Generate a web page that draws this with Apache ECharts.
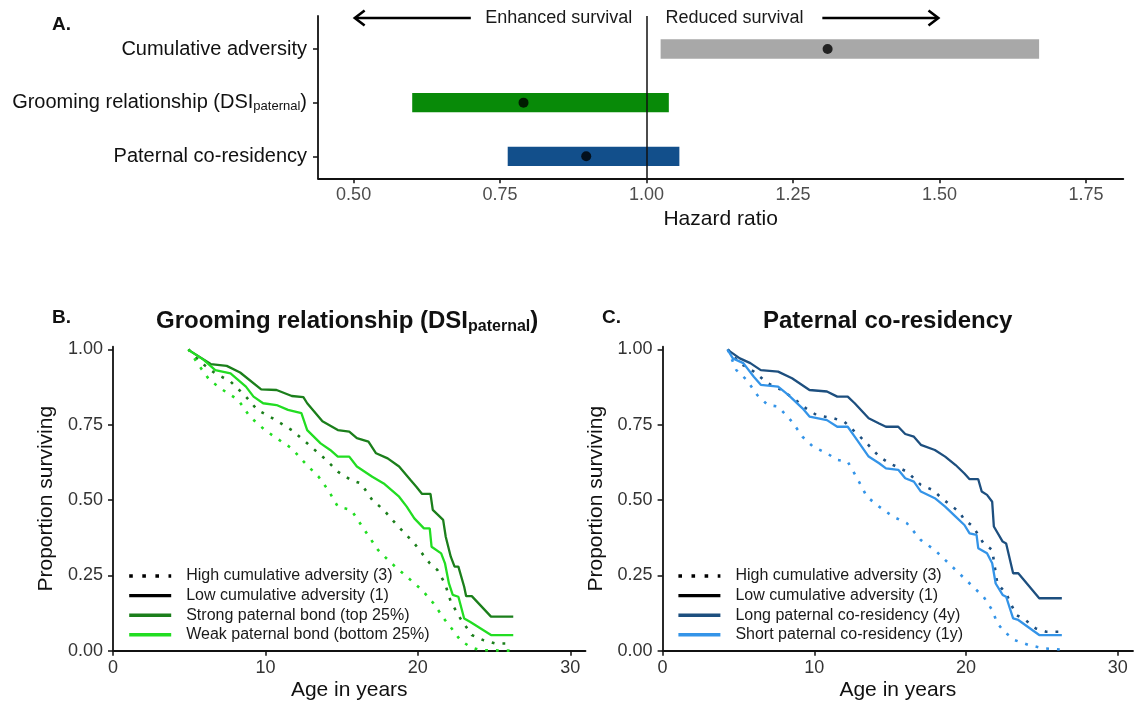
<!DOCTYPE html>
<html>
<head>
<meta charset="utf-8">
<title>Hazard ratios and survival curves</title>
<script src="https://cdn.jsdelivr.net/npm/echarts@6.0.0/dist/echarts.min.js"></script>
<style>
  html, body { margin: 0; padding: 0; background: #fff; }
  #chart { width: 1135px; height: 707px; }
</style>
</head>
<body>
<div id="chart"></div>
<script>
// ---- panel A: hazard ratios (top to bottom) ----
const hrTerms = ['Cumulative adversity', 'Grooming relationship (DSI{sub|paternal})', 'Paternal co-residency'];
const hrLow = [1.024, 0.600, 0.763];
const hrHigh = [1.670, 1.038, 1.056];
const hrEst = [1.309, 0.790, 0.897];
const hrTicks = [0.5, 0.75, 1.0, 1.25, 1.5, 1.75];

// arrows above the forest plot
const arrowFrom = [0.70, 1.30];
const arrowTo = [0.50, 1.50];
const noteX = [0.85, 1.15];
const noteText = ['Enhanced survival', 'Reduced survival'];

// ---- panels B and C: predicted survival, [age, proportion] ----
const ageTicks = [0, 10, 20, 30];
const survTicks = [0, 0.25, 0.5, 0.75, 1];

// B: grooming relationship
const strongLowAdv = [[4.95,0.998],[6.41,0.951],[7.46,0.945],[8.34,0.923],[9.72,0.867],[10.73,0.865],[11.73,0.845],[12.49,0.841],[12.74,0.821],[13.74,0.761],[14.75,0.732],[15.5,0.727],[16.0,0.705],[16.76,0.694],[17.26,0.655],[18.02,0.638],[18.77,0.611],[19.52,0.566],[19.9,0.544],[20.28,0.52],[20.83,0.52],[20.98,0.467],[21.66,0.434],[21.83,0.378],[22.16,0.312],[22.41,0.279],[22.66,0.279],[23.04,0.212],[23.17,0.181],[23.54,0.181],[24.8,0.113],[26.26,0.113]];
const weakLowAdv = [[4.95,0.998],[5.95,0.965],[6.71,0.931],[7.71,0.92],[8.72,0.876],[9.22,0.843],[9.85,0.821],[10.73,0.815],[11.48,0.799],[12.36,0.788],[12.74,0.732],[13.62,0.688],[14.25,0.666],[14.75,0.644],[15.5,0.644],[16.0,0.611],[17.01,0.577],[17.76,0.555],[18.77,0.511],[19.27,0.478],[19.77,0.439],[20.4,0.406],[20.78,0.406],[20.9,0.345],[21.53,0.323],[21.78,0.29],[22.04,0.223],[22.29,0.185],[22.66,0.179],[23.04,0.107],[23.42,0.096],[24.8,0.052],[26.26,0.052]];
const strongHighAdv = [[4.95,1.0],[5.7,0.959],[6.71,0.92],[7.71,0.893],[8.72,0.843],[9.47,0.799],[10.48,0.771],[11.73,0.732],[12.74,0.688],[13.99,0.633],[14.75,0.594],[15.63,0.566],[16.26,0.555],[17.01,0.5],[17.76,0.467],[18.52,0.423],[19.15,0.389],[19.77,0.356],[20.78,0.29],[21.28,0.268],[21.78,0.223],[22.16,0.163],[22.79,0.107],[23.54,0.052],[24.3,0.035],[25.05,0.024],[26.26,0.024]];
const weakHighAdv = [[4.95,1.0],[5.7,0.942],[6.33,0.898],[7.21,0.865],[8.22,0.832],[8.97,0.777],[9.97,0.732],[10.73,0.705],[11.73,0.671],[12.61,0.622],[13.49,0.577],[14.12,0.533],[14.75,0.478],[15.63,0.467],[16.51,0.4],[17.39,0.334],[18.27,0.29],[19.27,0.246],[20.28,0.201],[21.03,0.157],[21.78,0.102],[22.29,0.069],[22.79,0.035],[23.42,0.013],[24.05,0.002],[26.26,0.0]];

// C: paternal co-residency
const longLowAdv = [[4.29,0.998],[5.09,0.97],[5.78,0.954],[6.47,0.931],[7.61,0.926],[8.53,0.904],[9.68,0.865],[10.83,0.86],[11.51,0.843],[12.2,0.843],[12.66,0.821],[13.58,0.771],[14.27,0.754],[14.72,0.743],[15.53,0.743],[15.99,0.719],[16.56,0.71],[17.02,0.683],[17.94,0.666],[18.62,0.644],[19.31,0.616],[19.89,0.588],[20.23,0.569],[20.8,0.569],[21.03,0.528],[21.38,0.517],[21.72,0.494],[21.83,0.412],[22.41,0.362],[22.64,0.356],[23.1,0.257],[23.44,0.257],[24.82,0.174],[26.31,0.174]];
const shortLowAdv = [[4.29,0.998],[4.63,0.97],[5.32,0.954],[6.01,0.909],[6.47,0.882],[7.61,0.876],[8.3,0.848],[9.22,0.804],[9.68,0.777],[10.83,0.765],[11.51,0.743],[12.2,0.743],[12.66,0.71],[13.58,0.644],[14.27,0.622],[14.72,0.605],[15.53,0.6],[15.99,0.572],[16.56,0.561],[17.02,0.528],[17.94,0.506],[18.62,0.478],[19.31,0.445],[19.89,0.417],[20.23,0.389],[20.69,0.384],[20.8,0.34],[21.38,0.323],[21.72,0.29],[21.95,0.223],[22.41,0.185],[22.64,0.179],[23.1,0.107],[23.44,0.102],[24.82,0.052],[26.31,0.052]];
const longHighAdv = [[4.29,1.0],[5.09,0.954],[6.01,0.926],[6.93,0.887],[7.84,0.865],[8.76,0.832],[9.45,0.804],[10.14,0.782],[11.28,0.771],[11.97,0.76],[12.89,0.716],[13.46,0.688],[14.27,0.644],[14.95,0.622],[16.1,0.594],[17.02,0.55],[17.82,0.533],[18.39,0.506],[18.97,0.483],[19.54,0.461],[19.89,0.434],[20.46,0.412],[21.15,0.356],[21.72,0.334],[22.06,0.223],[22.64,0.19],[22.98,0.152],[23.33,0.118],[23.9,0.102],[24.59,0.074],[25.28,0.063],[26.19,0.063]];
const shortHighAdv = [[4.29,1.0],[4.86,0.931],[5.55,0.898],[6.24,0.848],[6.93,0.815],[7.61,0.81],[8.53,0.76],[9.22,0.71],[9.91,0.677],[10.83,0.655],[11.51,0.633],[12.2,0.627],[12.89,0.566],[13.46,0.511],[14.27,0.478],[15.18,0.445],[16.1,0.423],[17.02,0.367],[17.94,0.334],[18.85,0.29],[19.54,0.257],[20.46,0.212],[21.15,0.179],[21.72,0.135],[22.06,0.091],[22.52,0.063],[23.21,0.035],[24.13,0.019],[25.05,0.008],[26.19,0.004]];

const legendB = ['High cumulative adversity (3)', 'Low cumulative adversity (1)', 'Strong paternal bond (top 25%)', 'Weak paternal bond (bottom 25%)'];
const legendC = ['High cumulative adversity (3)', 'Low cumulative adversity (1)', 'Long paternal co-residency (4y)', 'Short paternal co-residency (1y)'];

// ---- styles ----
const FONT = '"Liberation Sans", Arial, Helvetica, sans-serif';
const INK = '#111';
const barColors = ['#a8a8a8', '#088a08', '#124f8b'];
const C_STRONG = '#1b7f1b', C_WEAK = '#22dd22', C_LONG = '#1d4f7f', C_SHORT = '#3494e8';
const DOTS = [2.8, 8];

const nRows = hrTerms.length;
const rowOf = i => nRows - 1 - i;     // top row gets the highest value

function curve(name, data, color, dotted, axis) {
  return {
    type: 'line', name, data, xAxisIndex: axis, yAxisIndex: axis,
    symbol: 'none', silent: true, z: dotted ? 3 : 4,
    lineStyle: { color, width: dotted ? 2.6 : 2.3, type: dotted ? DOTS : 'solid' },
    itemStyle: { color }
  };
}

const axisLine = { show: true, onZero: false, lineStyle: { color: INK, width: 1.8 } };
const axisTick = (vals) => ({ show: true, length: 5, lineStyle: { color: INK, width: 1.5 }, customValues: vals });

function survXAxis(idx) {
  return {
    type: 'value', gridIndex: idx, min: 0, max: 31,
    axisLine, axisTick: axisTick(ageTicks), splitLine: { show: false },
    axisLabel: { customValues: ageTicks, fontSize: 18, color: '#333', fontFamily: FONT, margin: 8 },
    name: 'Age in years', nameLocation: 'middle', nameGap: 29,
    nameTextStyle: { fontSize: 21, color: INK, fontFamily: FONT }
  };
}
function survYAxis(idx) {
  return {
    type: 'value', gridIndex: idx, min: 0, max: 1.0086,
    axisLine, axisTick: axisTick(survTicks), splitLine: { show: false },
    axisLabel: { customValues: survTicks, fontSize: 18, color: '#333', fontFamily: FONT, margin: 10,
      formatter: v => v.toFixed(2) },
    name: 'Proportion surviving', nameLocation: 'middle', nameGap: 56,
    nameTextStyle: { fontSize: 21, color: INK, fontFamily: FONT }
  };
}
function legend(names, left) {
  return {
    data: names, orient: 'vertical', left, top: 563,
    itemWidth: 42, itemHeight: 14, itemGap: 3.6,
    lineStyle: { width: 3.4 },
    itemStyle: { opacity: 0, color: 'transparent', borderWidth: 0 },
    textStyle: { fontSize: 16, color: '#1a1a1a', fontFamily: FONT, lineHeight: 16, padding: [0, 0, 0, 10] },
    selectedMode: false
  };
}

const chart = echarts.init(document.getElementById('chart'), null, { renderer: 'canvas' });

chart.setOption({
  animation: false,
  backgroundColor: '#fff',
  textStyle: { fontFamily: FONT },
  title: [
    { text: 'A.', left: 47, top: 10, textStyle: { fontSize: 19, fontWeight: 'bold', color: INK, fontFamily: FONT } },
    { text: 'B.', left: 47, top: 303, textStyle: { fontSize: 19, fontWeight: 'bold', color: INK, fontFamily: FONT } },
    { text: 'C.', left: 597, top: 303, textStyle: { fontSize: 19, fontWeight: 'bold', color: INK, fontFamily: FONT } },
    { text: 'Grooming relationship (DSI{sub|paternal})', left: 151, top: 302,
      textStyle: { fontSize: 24, fontWeight: 'bold', color: INK, fontFamily: FONT, lineHeight: 28,
        rich: { sub: { fontSize: 16, fontWeight: 'bold', color: INK, fontFamily: FONT, verticalAlign: 'bottom', lineHeight: 22 } } } },
    { text: 'Paternal co-residency', left: 758, top: 302,
      textStyle: { fontSize: 24, fontWeight: 'bold', color: INK, fontFamily: FONT, lineHeight: 28 } }
  ],
  grid: [
    { left: 318, right: 11.7, top: 16, height: 162.3 },
    { left: 113, width: 472.5, top: 346.7, height: 304 },
    { left: 662.6, width: 470.4, top: 346.7, height: 304 }
  ],
  xAxis: [
    {
      type: 'value', gridIndex: 0, min: 0.4392, max: 1.8137,
      axisLine, axisTick: axisTick(hrTicks), splitLine: { show: false },
      axisLabel: { customValues: hrTicks, fontSize: 18, color: '#4d4d4d', fontFamily: FONT, margin: 8,
        formatter: v => v.toFixed(2) },
      name: 'Hazard ratio', nameLocation: 'middle', nameGap: 30,
      nameTextStyle: { fontSize: 21, color: INK, fontFamily: FONT }
    },
    survXAxis(1), survXAxis(2)
  ],
  yAxis: [
    {
      type: 'value', gridIndex: 0, min: -0.41, max: 2.615,
      axisLine, axisTick: axisTick(hrTerms.map((t, i) => rowOf(i))), splitLine: { show: false },
      axisLabel: {
        customValues: hrTerms.map((t, i) => rowOf(i)),
        fontSize: 20, color: INK, fontFamily: FONT, margin: 11,
        formatter: v => hrTerms[rowOf(Math.round(v))],
        rich: { sub: { fontSize: 13, color: INK, fontFamily: FONT, verticalAlign: 'bottom', lineHeight: 20 } }
      }
    },
    survYAxis(1), survYAxis(2)
  ],
  legend: [legend(legendB, 122.5), legend(legendC, 671.7)],
  series: [
    {
      type: 'custom', name: 'CI', xAxisIndex: 0, yAxisIndex: 0, silent: true,
      data: hrTerms.map((t, i) => [hrLow[i], hrHigh[i], rowOf(i), i]),
      encode: { x: [0, 1], y: 2 },
      renderItem: (params, api) => {
        const a = api.coord([api.value(0), api.value(2)]);
        const b = api.coord([api.value(1), api.value(2)]);
        const h = 19.3;
        return { type: 'rect', shape: { x: a[0], y: a[1] - h / 2, width: b[0] - a[0], height: h },
          style: { fill: barColors[api.value(3)] } };
      },
      z: 2
    },
    {
      type: 'scatter', name: 'HR', xAxisIndex: 0, yAxisIndex: 0, silent: true,
      data: hrTerms.map((t, i) => [hrEst[i], rowOf(i)]),
      symbolSize: 10, itemStyle: { color: '#000' }, z: 4,
      markLine: {
        silent: true, symbol: 'none', label: { show: false },
        lineStyle: { color: INK, width: 1.5, type: 'solid' },
        data: [{ xAxis: 1 }]
      }
    },
    {
      type: 'custom', name: 'notes', xAxisIndex: 0, yAxisIndex: 0, silent: true, clip: false,
      data: noteText.map((t, i) => [arrowFrom[i], arrowTo[i], noteX[i], i]),
      encode: { x: [0, 1, 2] },
      renderItem: (params, api) => {
        const y = nRows - 1 + 0.578;
        const p0 = api.coord([api.value(0), y]);
        const p1 = api.coord([api.value(1), y]);
        const pt = api.coord([api.value(2), y]);
        const dir = p0[0] > p1[0] ? 1 : -1;
        return {
          type: 'group',
          children: [
            { type: 'line', shape: { x1: p0[0], y1: p0[1], x2: p1[0] + dir * 1.5, y2: p1[1] },
              style: { stroke: '#000', lineWidth: 2.6 } },
            { type: 'polyline', shape: { points: [[p1[0] + dir * 11, p1[1] - 7.5], [p1[0] + dir * 1.2, p1[1]], [p1[0] + dir * 11, p1[1] + 7.5]] },
              style: { stroke: '#000', lineWidth: 2.6, fill: null } },
            { type: 'text', x: pt[0], y: pt[1],
              style: { text: noteText[api.value(3)], fontSize: 18, fontFamily: FONT, fill: '#1a1a1a',
                align: 'center', verticalAlign: 'middle' } }
          ]
        };
      }
    },
    // legend-only keys shared by B and C
    { type: 'line', name: legendB[0], data: [], xAxisIndex: 1, yAxisIndex: 1, symbol: 'none',
      lineStyle: { color: '#000', width: 3.4, type: [3.6, 9.5] }, itemStyle: { color: '#000' } },
    { type: 'line', name: legendB[1], data: [], xAxisIndex: 1, yAxisIndex: 1, symbol: 'none',
      lineStyle: { color: '#000', width: 3.4 }, itemStyle: { color: '#000' } },
    curve('Strong bond, high adversity', strongHighAdv, C_STRONG, true, 1),
    curve('Weak bond, high adversity', weakHighAdv, C_WEAK, true, 1),
    curve(legendB[2], strongLowAdv, C_STRONG, false, 1),
    curve(legendB[3], weakLowAdv, C_WEAK, false, 1),
    curve('Long co-residency, high adversity', longHighAdv, C_LONG, true, 2),
    curve('Short co-residency, high adversity', shortHighAdv, C_SHORT, true, 2),
    curve(legendC[2], longLowAdv, C_LONG, false, 2),
    curve(legendC[3], shortLowAdv, C_SHORT, false, 2)
  ]
});
</script>
</body>
</html>
